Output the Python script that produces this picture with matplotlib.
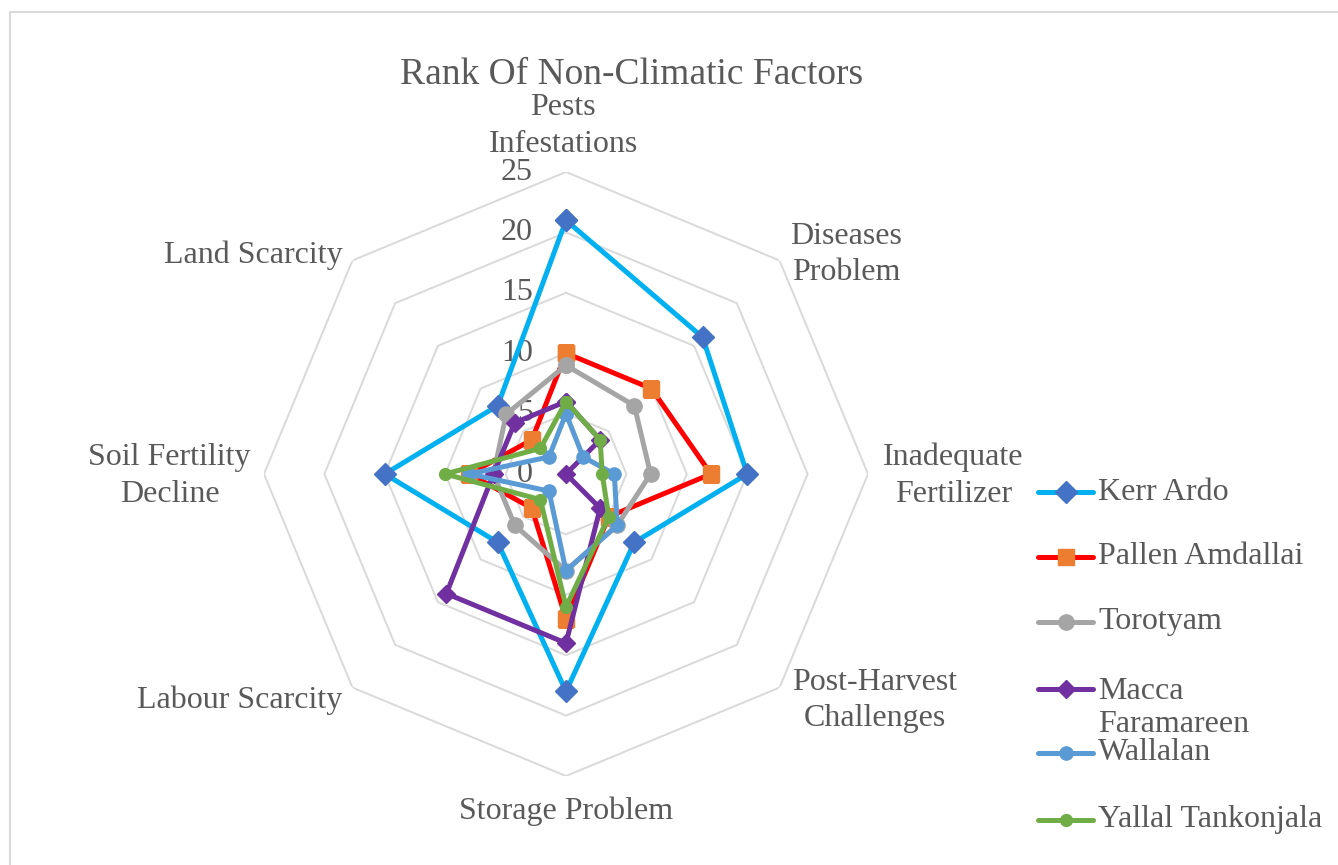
import numpy as np
import matplotlib
matplotlib.use("Agg")
import matplotlib.pyplot as plt
from matplotlib.transforms import offset_copy
from matplotlib.patches import Rectangle

plt.rcParams["font.family"] = ["Liberation Serif", "DejaVu Serif"]

# ---- data -------------------------------------------------------------
categories = [
    "Pests\nInfestations",
    "Diseases\nProblem",
    "Inadequate\nFertilizer",
    "Post-Harvest\nChallenges",
    "Storage Problem",
    "Labour Scarcity",
    "Soil Fertility\nDecline",
    "Land Scarcity",
]

series_names = ["Kerr Ardo", "Pallen Amdallai", "Torotyam",
                "Macca\nFaramareen", "Wallalan", "Yallal Tankonjala"]

kerr_ardo        = [21, 16, 15, 8, 18, 8, 15, 8]
pallen_amdallai  = [10, 10, 12, 5, 12, 4, 8, 4]
torotyam         = [9, 8, 7, 6, 8, 6, 6, 7]
macca_faramareen = [6, 4, 0, 4, 14, 14, 6, 6]
wallalan         = [5, 2, 4, 6, 8, 2, 8, 2]
yallal_tankonjala = [6, 4, 3, 5, 11, 3, 10, 3]

tick_values = [0, 5, 10, 15, 20, 25]

# ---- styles -----------------------------------------------------------
series_values = [kerr_ardo, pallen_amdallai, torotyam,
                 macca_faramareen, wallalan, yallal_tankonjala]
line_colors = ["#00B0F0", "#FF0000", "#A5A5A5", "#7030A0", "#5B9BD5", "#70AD47"]
marker_colors = ["#4472C4", "#ED7D31", "#A5A5A5", "#7030A0", "#5B9BD5", "#70AD47"]
markers = ["D", "s", "o", "D", "o", "o"]
marker_sizes = [11.5, 11, 11, 9, 9.5, 8.5]

text_color = "#595959"
grid_color = "#D9D9D9"
label_size = 23

W, H = 1338, 865
fig = plt.figure(figsize=(W / 100, H / 100), dpi=100)
fig.patch.set_facecolor("white")

# chart-area border (light grey)
fig.add_artist(Rectangle((10 / W, -0.5), 2.0, 1.5 - 12 / H,
                         transform=fig.transFigure, fill=False,
                         edgecolor=grid_color, lw=1.5))

cx, cy, R = 566, 474, 302
ax = fig.add_axes([(cx - R) / W, (H - cy - R) / H, 2 * R / W, 2 * R / H],
                  projection="polar")
ax.set_theta_zero_location("N")
ax.set_theta_direction(-1)
ax.set_ylim(0, 25)
ax.grid(False)
ax.spines["polar"].set_visible(False)
ax.set_xticks([])
ax.set_yticks([])
ax.patch.set_alpha(0)

n = len(categories)
angles = np.linspace(0, 2 * np.pi, n, endpoint=False)
closed = np.concatenate([angles, angles[:1]])

# octagonal grid rings
for r in tick_values[1:]:
    ax.plot(closed, [r] * (n + 1), color=grid_color, lw=1.4, zorder=0)

# radial tick labels along the top spoke
tick_tr = offset_copy(ax.transData, fig=fig, x=-33, y=0, units="dots")
for v in tick_values:
    ax.text(0, v, str(v), transform=tick_tr, ha="right", va="center",
            fontsize=label_size, color=text_color, zorder=1)

# series
for i, (vals, lc, mc, mk, ms) in enumerate(zip(series_values, line_colors,
                                                marker_colors, markers,
                                                marker_sizes)):
    v = list(vals) + [vals[0]]
    ax.plot(closed, v, color=lc, lw=3.6, solid_joinstyle="round",
            marker=mk, ms=ms, mfc=mc, mec=mc, zorder=3 + i)

# category labels
label_r = 26.5
aligns = [("center", "bottom"), ("left", "center"), ("left", "center"),
          ("left", "center"), ("center", "top"), ("right", "center"),
          ("right", "center"), ("right", "center")]
shifts = [(-3, -5), (-2, -7), (-3, -2), (0, 0), (0, -2), (3, 0), (5, -2), (3, -8)]
for ang, lab, (ha, va), (dx, dy) in zip(angles, categories, aligns, shifts):
    ax.text(ang, label_r, lab, ha=ha, va=va, multialignment="center",
            fontsize=label_size, color=text_color, linespacing=1.35,
            transform=offset_copy(ax.transData, fig=fig, x=dx, y=dy,
                                  units="dots"))

# title
fig.text(632 / W, 1 - 75 / H, "Rank Of Non-Climatic Factors",
         ha="center", va="center", fontsize=27, color=text_color)

# legend
leg = fig.add_axes([0, 0, 1, 1])
leg.set_xlim(0, W)
leg.set_ylim(H, 0)
leg.axis("off")
leg.patch.set_alpha(0)
legend_y = [492, 557, 622, 689, 753, 820]
for name, y, lc, mc, mk, ms in zip(series_names, legend_y, line_colors,
                                   marker_colors, markers, marker_sizes):
    leg.plot([1038, 1093], [y, y], color=lc, lw=3.6, solid_capstyle="round")
    leg.plot([1065.5], [y], marker=mk, ms=ms, mfc=mc, mec=mc, ls="none")
    if "\n" in name:
        leg.text(1098, y, name, ha="left", va="top", fontsize=label_size,
                 color=text_color, linespacing=1.2,
                 transform=offset_copy(leg.transData, fig=fig, x=0, y=12,
                                       units="dots"))
    else:
        leg.text(1098, y, name, ha="left", va="center", fontsize=label_size,
                 color=text_color)

fig.savefig("out.png", dpi=100)
